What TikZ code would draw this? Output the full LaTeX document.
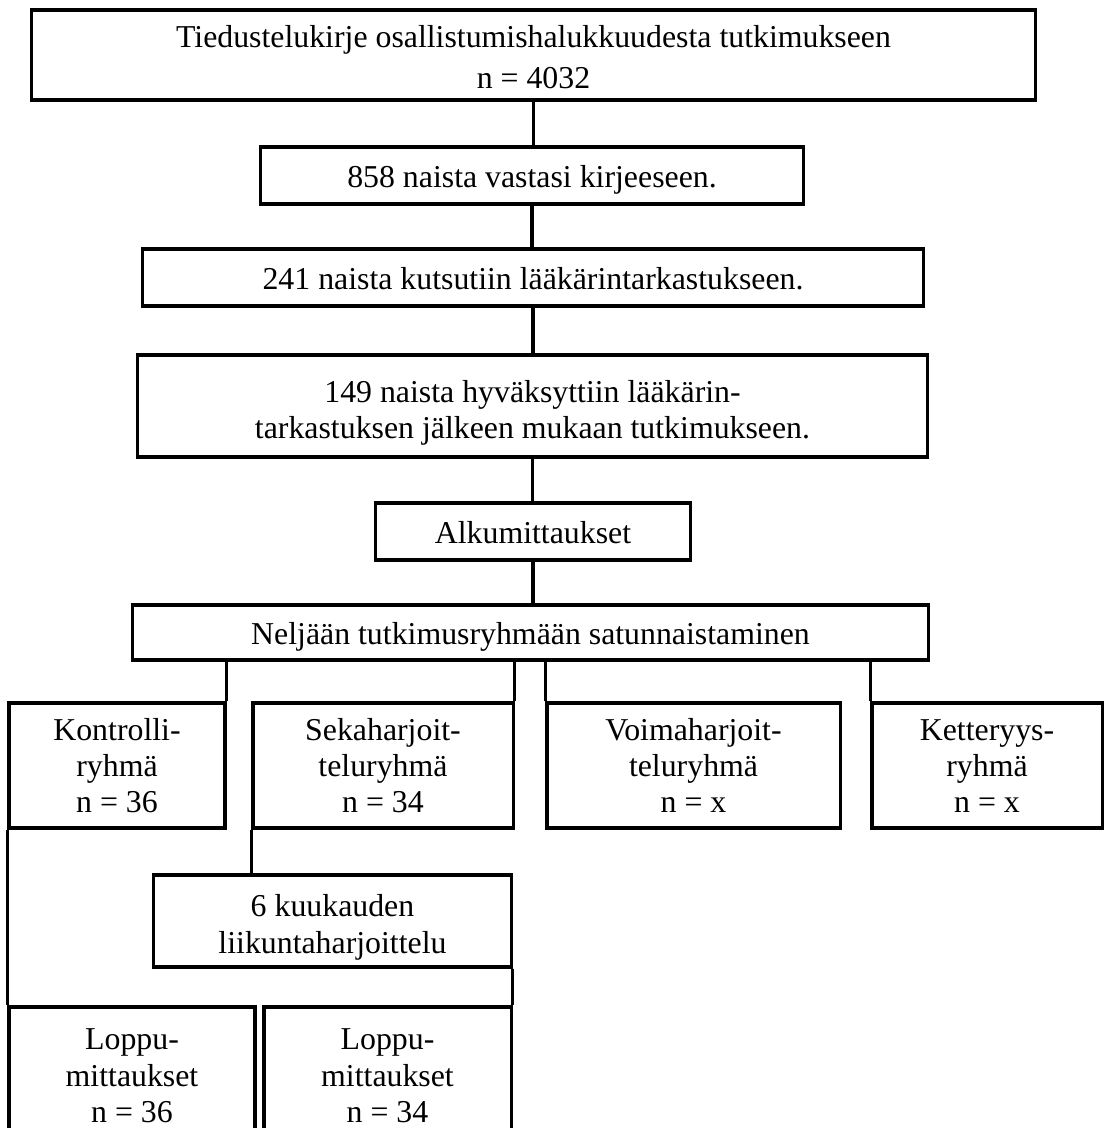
\documentclass[tikz,border=0pt]{standalone}
\usepackage{fontspec}
\setmainfont{Liberation Serif}
\newcommand{\lowtext}[2][-1.45pt]{\raisebox{#1}[\height][\depth]{\begin{tabular}{@{}c@{}}#2\end{tabular}}}
\begin{document}
\begin{tikzpicture}[x=0.01cm,y=-0.01cm,
  box/.style={draw, line width=0.9pt, inner sep=0pt,
    font=\fontsize{9.05}{10.3}\selectfont},
  conn/.style={line width=0.9pt}]
\useasboundingbox (0,0) rectangle (1104,1128);
\clip (0,0) rectangle (1104,1128);
\node[box, minimum width=10.03cm, minimum height=0.90cm] (top) at (533.5,55)
  {\lowtext[-1.6pt]{Tiedustelukirje osallistumishalukkuudesta tutkimukseen\\[1.3pt] n = 4032}};
\node[box, minimum width=5.42cm, minimum height=0.57cm] (b2) at (532,175.5)
  {\lowtext{858 naista vastasi kirjeeseen.}};
\node[box, minimum width=7.80cm, minimum height=0.57cm] (b3) at (533,277.5)
  {\lowtext{241 naista kutsutiin lääkärintarkastukseen.}};
\node[box, minimum width=7.89cm, minimum height=1.02cm] (b4) at (532.5,406)
  {\lowtext[-2pt]{149 naista hyväksyttiin lääkärin-\\tarkastuksen jälkeen mukaan tutkimukseen.}};
\node[box, minimum width=3.14cm, minimum height=0.57cm] (b5) at (533,531.5)
  {\lowtext{Alkumittaukset}};
\node[box, minimum width=7.95cm, minimum height=0.55cm] (b6) at (530.5,632.5)
  {\lowtext{Neljään tutkimusryhmään satunnaistaminen}};
\node[box, minimum width=2.16cm, minimum height=1.25cm] (kon) at (117,765.5)
  {\lowtext[-1.1pt]{Kontrolli-\\ryhmä\\n = 36}};
\node[box, minimum width=2.60cm, minimum height=1.25cm] (seka) at (383,765.5)
  {\lowtext[-1.1pt]{Sekaharjoit-\\teluryhmä\\n = 34}};
\node[box, minimum width=2.93cm, minimum height=1.25cm] (voima) at (693.5,765.5)
  {\lowtext[-1.1pt]{Voimaharjoit-\\teluryhmä\\n = x}};
\node[box, minimum width=2.30cm, minimum height=1.25cm] (kett) at (987,765.5)
  {\lowtext[-1.1pt]{Ketteryys-\\ryhmä\\n = x}};
\node[box, minimum width=3.57cm, minimum height=0.92cm] (liik) at (332.5,921)
  {\lowtext[-1.9pt]{6 kuukauden\\liikuntaharjoittelu}};
\node[box, minimum width=2.46cm, minimum height=1.36cm] (lop1) at (132,1075)
  {\lowtext[-1.1pt]{Loppu-\\mittaukset\\n = 36}};
\node[box, minimum width=2.47cm, minimum height=1.36cm] (lop2) at (387.5,1075)
  {\lowtext[-1.1pt]{Loppu-\\mittaukset\\n = 34}};
\draw[conn] (top.south) -- (top.south |- b2.north);
\draw[conn] (b2.south) -- (b2.south |- b3.north);
\draw[conn] (b3.south) -- (b3.south |- b4.north);
\draw[conn] (b4.south) -- (b4.south |- b5.north);
\draw[conn] (b5.south) -- (b5.south |- b6.north);
\draw[conn] (kon.north east) -- (kon.north east |- b6.south);
\draw[conn] (seka.north east) -- (seka.north east |- b6.south);
\draw[conn] (voima.north west) -- (voima.north west |- b6.south);
\draw[conn] (kett.north west) -- (kett.north west |- b6.south);
\draw[conn] (seka.south west) -- (seka.south west |- liik.north);
\draw[conn] (liik.south east) -- (liik.south east |- lop2.north);
\draw[conn] (kon.south west) -- (kon.south west |- lop1.north);
\end{tikzpicture}
\end{document}
